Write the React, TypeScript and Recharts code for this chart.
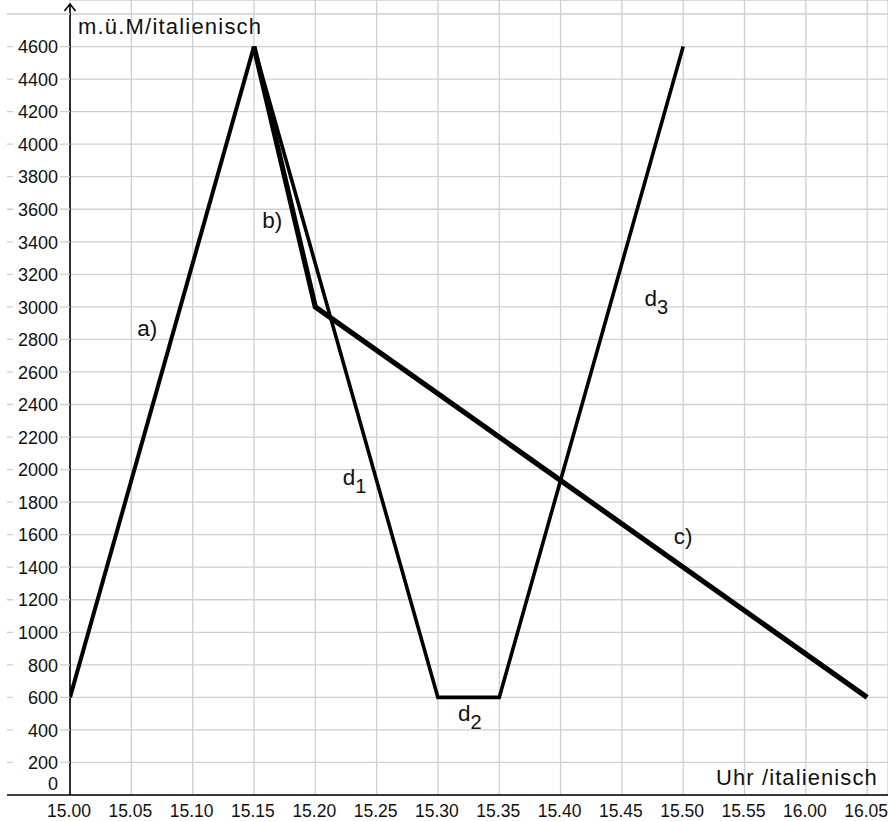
import { LineChart, Line, XAxis, YAxis, CartesianGrid, ReferenceLine, ReferenceDot } from 'recharts'

// minutes after 15.00 on the x axis, metres on the y axis
const timeTicks = [0, 5, 10, 15, 20, 25, 30, 35, 40, 45, 50, 55, 60, 65]
const timeLabels = ['15.00', '15.05', '15.10', '15.15', '15.20', '15.25', '15.30', '15.35', '15.40', '15.45', '15.50', '15.55', '16.00', '16.05']
const altTicks = [0, 200, 400, 600, 800, 1000, 1200, 1400, 1600, 1800, 2000, 2200, 2400, 2600, 2800, 3000, 3200, 3400, 3600, 3800, 4000, 4200, 4400, 4600, 4800]

const aMinutes = [0, 15]
const aAltitude = [600, 4600]
const bcMinutes = [15, 20, 65]
const bcAltitude = [4600, 3000, 600]
const dMinutes = [15, 30, 35, 50]
const dAltitude = [4600, 600, 600, 4600]

const noteText = ['a)', 'b)', 'd', 'd', 'd', 'c)']
const noteSub = ['', '', '1', '2', '3', '']
const noteMinute = [6.3, 16.5, 23.2, 32.6, 47.8, 50]
const noteAltitude = [2860, 3520, 1940, 490, 3040, 1580]

const FONT = '"Liberation Sans", Arial, sans-serif'

const toRows = (xs: number[], ys: number[]) => xs.map((m, i) => ({ min: m, alt: ys[i] }))
const aData = toRows(aMinutes, aAltitude)
const bcData = toRows(bcMinutes, bcAltitude)
const dData = toRows(dMinutes, dAltitude)

function YTick(props: any) {
  const { x, y, payload } = props
  const v = payload.value
  const axisX = x + 12
  return (
    <g>
      <line x1={7} x2={axisX} y1={y} y2={y} stroke={v === 0 ? '#000' : '#cfcfcf'} strokeWidth={v === 0 ? 1.6 : 1.3} />
      {v !== 4800 && (
        <>
          {v !== 0 && <rect x={x - 45} y={y - 8} width={47} height={17} fill="#fff" />}
          <text x={x} y={v === 0 ? y - 10 : y + 2} textAnchor="end" dominantBaseline="middle" fontFamily={FONT} fontSize={18} fill="#111">
            {v}
          </text>
        </>
      )}
    </g>
  )
}

function XTick(props: any) {
  const { x, y, payload } = props
  const i = timeTicks.indexOf(payload.value)
  return (
    <text x={x - 1} y={y} dy="0.75em" textAnchor="middle" fontFamily={FONT} fontSize={17.5} fill="#111">
      {timeLabels[i]}
    </text>
  )
}

function ArrowAxis(props: any) {
  const { x1, y1, y2 } = props
  const top = Math.min(y1, y2) + 4
  const bottom = Math.max(y1, y2)
  return (
    <g stroke="#000" fill="none" strokeWidth={1.6}>
      <line x1={x1} x2={x1} y1={top} y2={bottom} />
      <polyline points={`${x1 - 5.5},${top + 7} ${x1},${top} ${x1 + 5.5},${top + 7}`} />
    </g>
  )
}

function noteShape(i: number) {
  return (props: any) => (
    <text x={props.cx} y={props.cy} textAnchor="middle" dominantBaseline="middle" fontFamily={FONT} fontSize={22.5} fill="#111">
      {noteText[i]}
      {noteSub[i] && <tspan dy={9} fontSize={20}>{noteSub[i]}</tspan>}
    </text>
  )
}

export default function App() {
  return (
    <div style={{ position: 'absolute', left: 0, top: 0, background: '#fff' }}>
      <LineChart width={888} height={821} margin={{ top: 0, right: 0, bottom: 0, left: 0 }}>
        <CartesianGrid stroke="#cfcfcf" strokeWidth={1.3} />
        <XAxis
          type="number"
          dataKey="min"
          domain={[0, 66.7]}
          ticks={timeTicks}
          allowDataOverflow
          height={26}
          tickSize={0}
          tickMargin={9}
          axisLine={{ stroke: '#000', strokeWidth: 1.6 }}
          tickLine={false}
          tick={<XTick />}
          interval={0}
        />
        <YAxis
          type="number"
          domain={[0, 4886]}
          ticks={altTicks}
          allowDataOverflow
          width={70}
          tickSize={0}
          tickMargin={12}
          axisLine={false}
          tickLine={false}
          tick={<YTick />}
          interval={0}
        />
        <ReferenceLine x={0} shape={<ArrowAxis />} />
        <Line data={dData} dataKey="alt" stroke="#000" strokeWidth={3.6} dot={false} isAnimationActive={false} strokeLinejoin="miter" />
        <Line data={aData} dataKey="alt" stroke="#000" strokeWidth={4} dot={false} isAnimationActive={false} strokeLinejoin="miter" />
        <Line data={bcData} dataKey="alt" stroke="#000" strokeWidth={5.2} dot={false} isAnimationActive={false} strokeLinejoin="miter" />
        {noteText.map((t, i) => (
          <ReferenceDot key={i} x={noteMinute[i]} y={noteAltitude[i]} r={0} shape={noteShape(i)} />
        ))}
        <text x={78} y={28} dominantBaseline="middle" fontFamily={FONT} fontSize={22} letterSpacing={1.2} fill="#111">
          m.ü.M/italienisch
        </text>
        <text x={716} y={779} dominantBaseline="middle" fontFamily={FONT} fontSize={22} letterSpacing={1.1} fill="#111">
          Uhr /italienisch
        </text>
      </LineChart>
    </div>
  )
}
